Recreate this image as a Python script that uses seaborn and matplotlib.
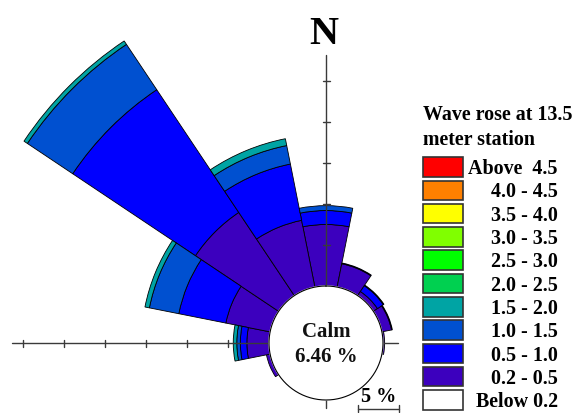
import numpy as np
import matplotlib
matplotlib.use("Agg")
import matplotlib.pyplot as plt
from matplotlib.patches import Rectangle
import seaborn as sns

# ---- data: wave height frequency (%) per direction sector -------------------
directions = ["N", "NNE", "NE", "ENE", "E", "ESE", "SE", "SSE",
              "S", "SSW", "SW", "WSW", "W", "WNW", "NW", "NNW"]
bearings = [0.0, 22.5, 45.0, 67.5, 90.0, 112.5, 135.0, 157.5,
            180.0, 202.5, 225.0, 247.5, 270.0, 292.5, 315.0, 337.5]

# wave height classes (m), stacked from the calm circle outward
freq_02_05 = [7.5, 2.9, 0.6, 1.2, 0.2, 0, 0, 0, 0, 0, 0, 0.45, 2.7, 5.5, 12.2, 8.3]
freq_05_10 = [1.7, 0.1, 0.85, 0.1, 0, 0, 0, 0, 0, 0, 0, 0, 0.8, 5.85, 18.0, 7.0]
freq_10_15 = [0.6, 0, 0.1, 0, 0, 0, 0, 0, 0, 0, 0, 0, 0.43, 3.66, 6.65, 2.3]
freq_15_20 = [0, 0, 0, 0, 0, 0, 0, 0, 0, 0, 0, 0, 0.43, 0.55, 0.5, 0.85]
calm_pct = 6.46

legend_labels = ["Above  4.5", "4.0 - 4.5", "3.5 - 4.0", "3.0 - 3.5", "2.5 - 3.0",
                 "2.0 - 2.5", "1.5 - 2.0", "1.0 - 1.5", "0.5 - 1.0", "0.2 - 0.5",
                 "Below 0.2"]
legend_colors = ["#FF0000", "#FF8000", "#FFFF00", "#80FF00", "#00FF00",
                 "#00D050", "#00A4A4", "#0050D0", "#0000FF", "#3C00BE",
                 "#FFFFFF"]
stack_series = [freq_02_05, freq_05_10, freq_10_15, freq_15_20]
stack_colors = ["#3C00BE", "#0000FF", "#0050D0", "#00A4A4"]

# ---- styling ---------------------------------------------------------------
sns.set_theme(style="white")
plt.rcParams["font.family"] = ["Liberation Serif", "DejaVu Serif"]
plt.rcParams["font.weight"] = "bold"

W, H = 576, 413
fig = plt.figure(figsize=(W / 100, H / 100), dpi=100)
fig.patch.set_facecolor("white")

def fx(px):
    return px / W

def fy(py):
    return 1 - py / H

PX_PER_PCT = 8.2            # radial scale: pixels per percent
CALM_R = 57 / PX_PER_PCT     # radius of the calm circle, in % units
RMAX = 46.0
cx, cy = 326, 343
R = RMAX * PX_PER_PCT

ax = fig.add_axes([fx(cx - R), fy(cy + R), 2 * R / W, 2 * R / H], projection="polar")
ax.set_theta_zero_location("N")
ax.set_theta_direction(-1)
ax.set_ylim(0, RMAX)
ax.set_axis_off()

theta = np.deg2rad(bearings)
width = np.deg2rad(22.5)
bottom = np.full(len(directions), CALM_R)
for vals, color in zip(stack_series, stack_colors):
    vals = np.asarray(vals, dtype=float)
    m = vals > 0
    ax.bar(theta[m], vals[m], width=width, bottom=bottom[m], color=color,
           edgecolor="black", linewidth=0.6, align="center", zorder=1)
    bottom = bottom + vals

# axis cross
axis_col = "#3a3a3a"
axis_ends = {0.0: 288, 90.0: 72, 180.0: 65, 270.0: 313.7}
for b, rpx in axis_ends.items():
    t = np.deg2rad(b)
    ax.plot([t, t], [0, rpx / PX_PER_PCT], color=axis_col, lw=1.0, zorder=2)

# 5 % ticks: short segments perpendicular to the axis lines
to_fig = ax.transData + fig.transFigure.inverted()
half = 3.5  # half tick length in pixels
ticks = CALM_R + np.arange(5, 35, 5)
for r in ticks:  # west arm
    px, py = to_fig.transform((np.deg2rad(270), r))
    fig.add_artist(plt.Line2D([px, px], [py - half / H, py + half / H],
                              color=axis_col, lw=1.0, zorder=2))
for r in ticks[:5]:  # north arm
    px, py = to_fig.transform((0.0, r))
    fig.add_artist(plt.Line2D([px - half / W, px + half / W], [py, py],
                              color=axis_col, lw=1.0, zorder=2))

# calm circle
tc = np.linspace(0, 2 * np.pi, 361)
ax.fill(tc, np.full_like(tc, CALM_R), color="white", zorder=3)
ax.plot(tc, np.full_like(tc, CALM_R), color="black", lw=0.8, zorder=4)

fig.text(fx(326), fy(337), "Calm", ha="center", va="baseline",
         fontsize=15, fontweight="bold", color="#111111")
fig.text(fx(326), fy(362), f"{calm_pct:.2f} %", ha="center", va="baseline",
         fontsize=15, fontweight="bold", color="#111111")

# north label
fig.text(fx(324), fy(44), "N", ha="center", va="baseline",
         fontsize=29, fontweight="bold", color="black")

# scale bar (5 %)
sb_len = 5 * PX_PER_PCT
x0, x1, ysb = 358, 358 + sb_len, 408.5
fig.add_artist(plt.Line2D([fx(x0), fx(x1)], [fy(ysb), fy(ysb)], color=axis_col, lw=1.0))
for xe in (x0, x1):
    fig.add_artist(plt.Line2D([fx(xe), fx(xe)], [fy(ysb - 3.5), fy(ysb + 3.5)],
                              color=axis_col, lw=1.0))
fig.text(fx((x0 + x1) / 2), fy(402), "5 %", ha="center", va="baseline",
         fontsize=14.5, fontweight="bold", color="black")

# legend
fig.text(fx(423), fy(120.5), "Wave rose at 13.5", ha="left", va="baseline",
         fontsize=14.4, fontweight="bold", color="black")
fig.text(fx(423), fy(145), "meter station", ha="left", va="baseline",
         fontsize=14.4, fontweight="bold", color="black")
sw_top0, sw_step, sw_h = 157.3, 23.3, 19.4
for i, (lab, col) in enumerate(zip(legend_labels, legend_colors)):
    top = sw_top0 + i * sw_step
    fig.add_artist(Rectangle((fx(423), fy(top + sw_h)), 40 / W, sw_h / H,
                             facecolor=col, edgecolor="#333333", lw=1.2,
                             transform=fig.transFigure))
    fig.text(fx(558), fy(top + 16.8), lab, ha="right", va="baseline",
             fontsize=14.4, fontweight="bold", color="black")

fig.savefig("out.png", dpi=100, facecolor="white")
